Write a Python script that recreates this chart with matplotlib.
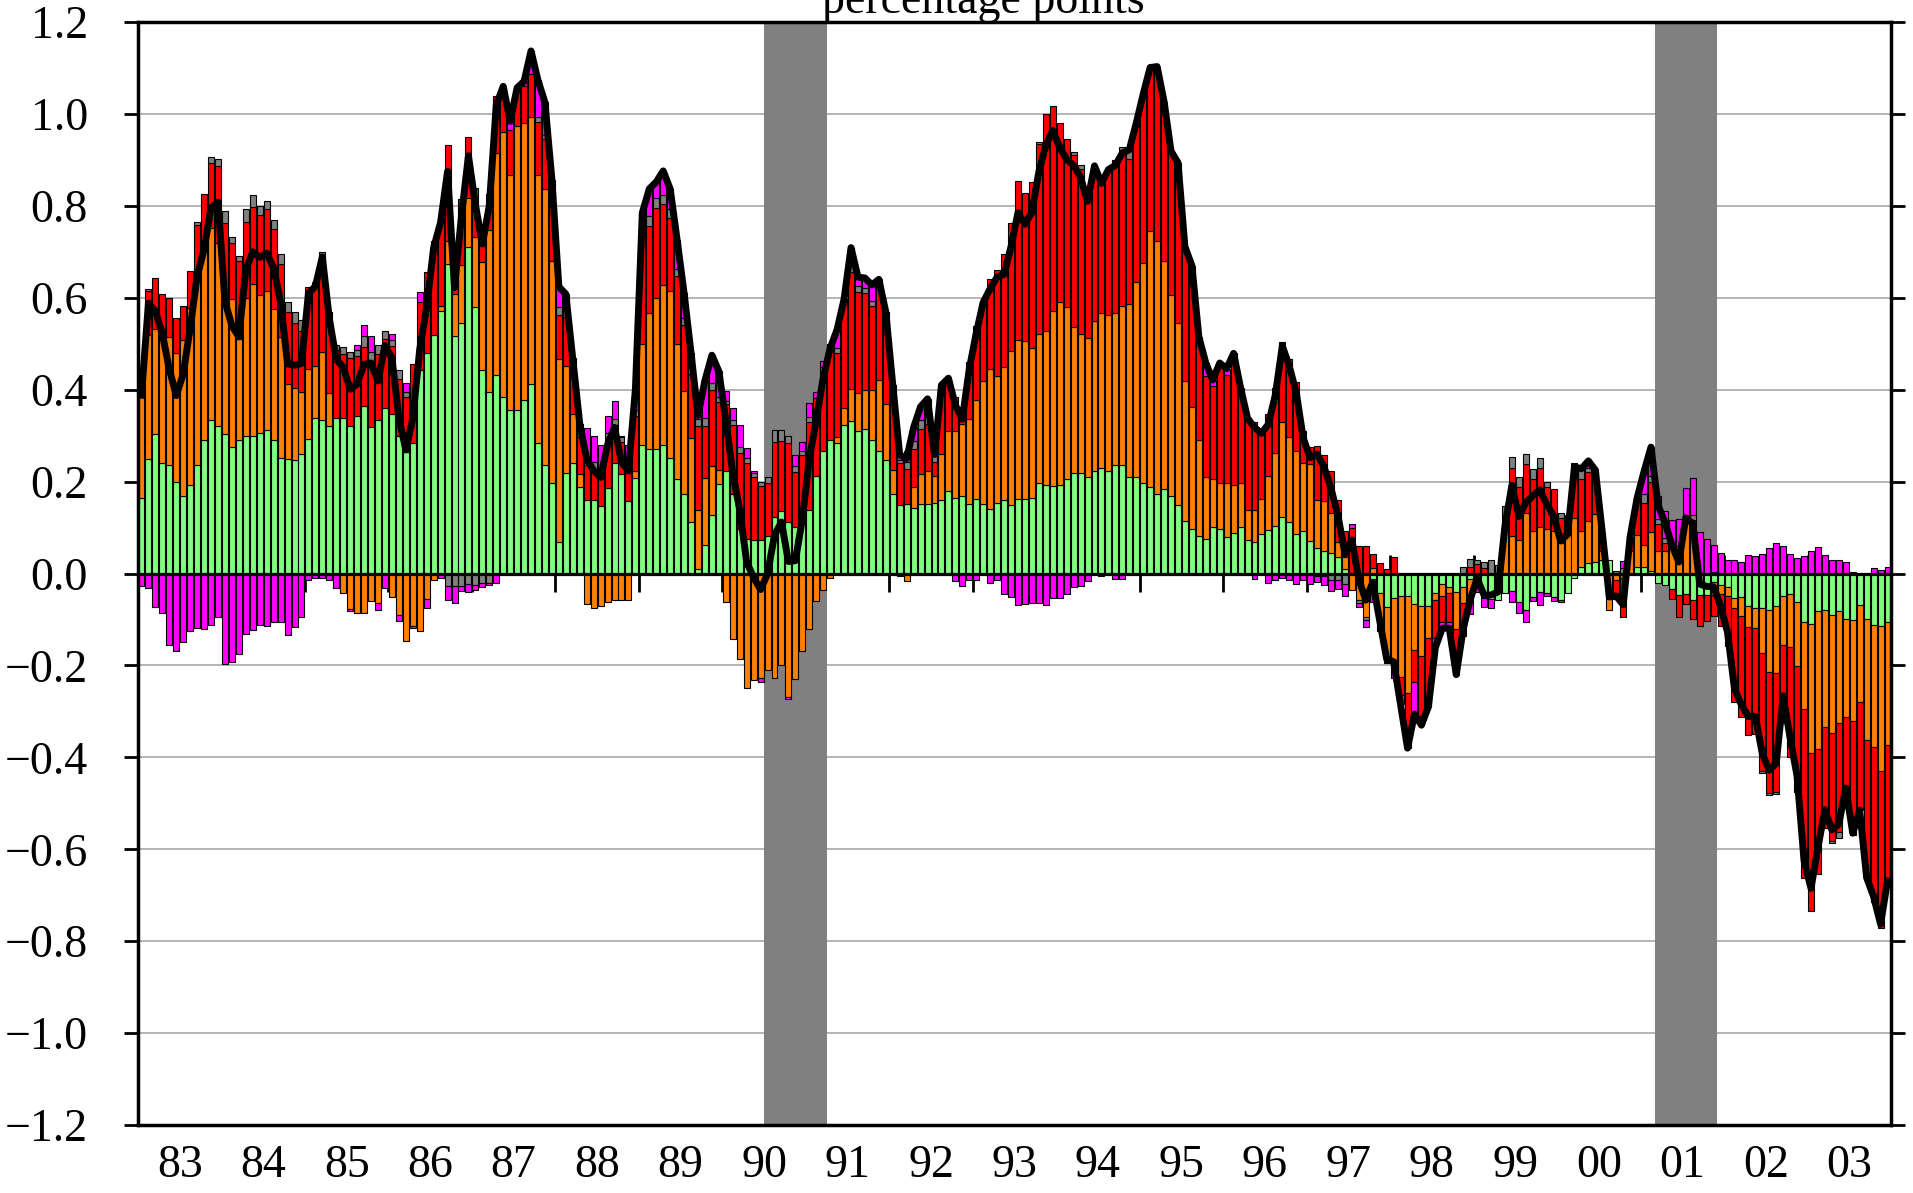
import numpy as np
import matplotlib
matplotlib.use("Agg")
import matplotlib.pyplot as plt

plt.rcParams['font.family'] = ['Liberation Serif', 'DejaVu Serif']

# monthly contributions, Jan 1983 - Dec 2003 (percentage points), one row per year
green = [
    0.164, 0.25, 0.303, 0.24, 0.237, 0.199, 0.169, 0.193, 0.237, 0.29, 0.334, 0.322,
    0.303, 0.276, 0.29, 0.30, 0.30, 0.305, 0.312, 0.29, 0.252, 0.25, 0.248, 0.26,
    0.293, 0.339, 0.333, 0.322, 0.339, 0.339, 0.322, 0.342, 0.364, 0.319, 0.334, 0.36,
    0.346, 0.30, 0.264, 0.283, 0.442, 0.48, 0.519, 0.571, 0.674, 0.517, 0.544, 0.71,
    0.579, 0.442, 0.396, 0.433, 0.385, 0.355, 0.355, 0.378, 0.413, 0.284, 0.237, 0.196,
    0.068, 0.219, 0.241, 0.189, 0.159, 0.161, 0.146, 0.185, 0.24, 0.216, 0.157, 0.207,
    0.28, 0.27, 0.271, 0.28, 0.252, 0.206, 0.172, 0.111, 0.01, 0.063, 0.128, 0.194,
    0.223, 0.172, 0.097, 0.076, 0.073, 0.073, 0.082, 0.124, 0.136, 0.111, 0.102, 0.14,
    0.139, 0.213, 0.267, 0.29, 0.284, 0.323, 0.331, 0.31, 0.315, 0.29, 0.267, 0.246,
    0.173, 0.149, 0.151, 0.143, 0.151, 0.151, 0.154, 0.159, 0.18, 0.165, 0.168, 0.151,
    0.163, 0.151, 0.14, 0.154, 0.16, 0.149, 0.163, 0.163, 0.165, 0.198, 0.193, 0.19,
    0.193, 0.205, 0.219, 0.219, 0.211, 0.222, 0.23, 0.224, 0.237, 0.237, 0.211, 0.209,
    0.197, 0.188, 0.173, 0.184, 0.168, 0.149, 0.114, 0.097, 0.082, 0.074, 0.101, 0.097,
    0.079, 0.089, 0.101, 0.072, 0.068, 0.085, 0.095, 0.104, 0.124, 0.112, 0.085, 0.093,
    0.071, 0.056, 0.049, 0.045, 0.036, 0.009, 0.0, 0.0, 0.0, -0.011, -0.043, -0.072,
    -0.054, -0.05, -0.05, -0.066, -0.07, -0.07, -0.043, -0.023, -0.029, -0.04, -0.03, -0.013,
    -0.02, -0.054, -0.056, -0.058, -0.043, -0.038, -0.061, -0.08, -0.051, -0.04, -0.043, -0.052,
    -0.058, -0.042, -0.009, 0.014, 0.022, 0.025, 0.029, 0.029, 0.0, 0.0, 0.0, 0.014,
    0.014, 0.006, -0.02, -0.026, -0.034, -0.046, -0.044, -0.058, -0.046, -0.046, -0.018, -0.025,
    -0.03, -0.054, -0.052, -0.071, -0.076, -0.076, -0.079, -0.071, -0.05, -0.044, -0.062, -0.106,
    -0.11, -0.082, -0.079, -0.09, -0.082, -0.1, -0.102, -0.068, -0.098, -0.111, -0.114, -0.106,
]
orange = [
    0.243, 0.27, 0.23, 0.275, 0.278, 0.281, 0.339, 0.385, 0.414, 0.43, 0.418, 0.398,
    0.297, 0.321, 0.22, 0.30, 0.329, 0.301, 0.303, 0.286, 0.263, 0.163, 0.155, 0.136,
    0.151, 0.112, 0.15, 0.07, 0.0, -0.043, -0.077, -0.085, -0.085, -0.059, -0.064, 0.0,
    -0.052, -0.09, -0.146, -0.114, -0.125, -0.055, -0.015, 0.012, 0.05, 0.091, 0.128, 0.107,
    0.154, 0.235, 0.351, 0.481, 0.575, 0.513, 0.619, 0.602, 0.58, 0.584, 0.60, 0.484,
    0.399, 0.232, 0.105, 0.027, -0.067, -0.076, -0.071, -0.062, -0.057, -0.057, -0.057, 0.015,
    0.22, 0.297, 0.329, 0.347, 0.363, 0.293, 0.225, 0.184, 0.128, 0.145, 0.106, 0.031,
    -0.063, -0.142, -0.186, -0.249, -0.232, -0.228, -0.211, -0.228, -0.2, -0.269, -0.229, -0.169,
    -0.121, -0.06, -0.036, -0.01, 0.012, 0.038, 0.071, 0.082, 0.085, 0.11, 0.154, 0.123,
    0.053, -0.005, -0.017, 0.045, 0.066, 0.071, 0.059, 0.1, 0.131, 0.144, 0.157, 0.185,
    0.215, 0.268, 0.304, 0.275, 0.29, 0.336, 0.345, 0.342, 0.326, 0.324, 0.335, 0.382,
    0.398, 0.375, 0.318, 0.303, 0.301, 0.327, 0.336, 0.338, 0.329, 0.346, 0.376, 0.426,
    0.479, 0.558, 0.551, 0.496, 0.439, 0.396, 0.305, 0.266, 0.208, 0.135, 0.104, 0.10,
    0.119, 0.104, 0.096, 0.067, 0.071, 0.078, 0.118, 0.159, 0.205, 0.184, 0.182, 0.147,
    0.167, 0.103, 0.109, 0.087, 0.033, 0.027, -0.035, -0.058, -0.094, 0.012, -0.073, -0.12,
    -0.134, -0.175, -0.21, -0.1, -0.11, -0.07, -0.015, -0.026, -0.014, -0.08, -0.035, -0.045,
    0.0, 0.0, 0.0, 0.0, 0.12, 0.081, 0.072, 0.132, 0.093, 0.101, 0.096, 0.093,
    0.067, 0.117, 0.121, 0.079, 0.092, 0.105, 0.02, -0.08, -0.015, -0.01, 0.05, 0.07,
    0.049, 0.085, 0.049, 0.049, 0.058, 0.059, 0.119, 0.116, 0.0, 0.0, -0.028, -0.02,
    -0.02, -0.022, -0.04, -0.045, -0.043, -0.098, -0.135, -0.145, -0.106, -0.116, -0.14, -0.188,
    -0.28, -0.299, -0.255, -0.256, -0.244, -0.212, -0.22, -0.212, -0.264, -0.267, -0.316, -0.268,
]
red = [
    0.008, 0.095, 0.111, 0.093, 0.085, 0.076, 0.075, 0.081, 0.108, 0.106, 0.141, 0.167,
    0.163, 0.123, 0.17, 0.164, 0.168, 0.173, 0.178, 0.174, 0.159, 0.156, 0.141, 0.132,
    0.18, 0.184, 0.209, 0.178, 0.148, 0.139, 0.147, 0.132, 0.128, 0.143, 0.144, 0.15,
    0.148, 0.124, 0.121, 0.173, 0.148, 0.176, 0.205, 0.191, 0.208, 0.078, 0.143, 0.133,
    0.105, 0.07, 0.078, 0.125, 0.10, 0.098, 0.083, 0.081, 0.094, 0.115, 0.108, 0.117,
    0.096, 0.107, 0.082, 0.08, 0.078, 0.067, 0.061, 0.111, 0.083, 0.071, 0.063, 0.12,
    0.265, 0.19, 0.196, 0.176, 0.159, 0.148, 0.143, 0.139, 0.184, 0.112, 0.166, 0.148,
    0.145, 0.152, 0.166, 0.164, 0.138, 0.117, 0.116, 0.162, 0.153, 0.172, 0.119, 0.117,
    0.191, 0.169, 0.172, 0.21, 0.183, 0.226, 0.255, 0.22, 0.21, 0.183, 0.199, 0.2,
    0.178, 0.091, 0.077, 0.083, 0.097, 0.103, 0.029, 0.151, 0.109, 0.074, 0.038, 0.124,
    0.16, 0.171, 0.196, 0.231, 0.245, 0.278, 0.346, 0.322, 0.36, 0.413, 0.472, 0.446,
    0.39, 0.365, 0.373, 0.359, 0.315, 0.338, 0.288, 0.317, 0.334, 0.332, 0.314, 0.345,
    0.367, 0.355, 0.379, 0.347, 0.312, 0.349, 0.292, 0.307, 0.21, 0.22, 0.203, 0.261,
    0.235, 0.286, 0.207, 0.199, 0.19, 0.142, 0.133, 0.141, 0.175, 0.17, 0.15, 0.07,
    0.037, 0.119, 0.099, 0.091, 0.09, 0.057, 0.1, 0.059, 0.059, 0.03, 0.023, 0.009,
    0.036, -0.04, -0.12, -0.07, -0.13, -0.15, -0.083, -0.056, -0.062, -0.1, -0.07, 0.015,
    0.02, 0.011, 0.0, 0.0, 0.006, 0.149, 0.117, 0.107, 0.113, 0.129, 0.092, 0.091,
    0.054, 0.0, 0.12, 0.112, 0.107, 0.095, 0.04, 0.0, -0.04, -0.085, 0.03, 0.08,
    0.09, 0.108, 0.058, 0.018, -0.021, -0.048, -0.022, -0.04, -0.068, -0.057, -0.046, -0.069,
    -0.108, -0.204, -0.22, -0.236, -0.23, -0.255, -0.263, -0.259, -0.162, -0.24, -0.273, -0.369,
    -0.345, -0.272, -0.22, -0.236, -0.237, -0.181, -0.246, -0.235, -0.3, -0.337, -0.341, -0.309,
]
gray = [
    0.0, 0.005, 0.0, 0.0, 0.0, 0.0, 0.0, 0.0, 0.005, 0.0, 0.014, 0.015,
    0.025, 0.012, 0.01, 0.029, 0.026, 0.02, 0.018, 0.02, 0.021, 0.021, 0.025, 0.023,
    0.0, 0.0, 0.007, 0.0, 0.011, 0.014, 0.014, 0.012, 0.025, 0.021, 0.02, 0.018,
    0.013, 0.018, 0.011, 0.0, 0.0, 0.0, 0.0, 0.0, -0.027, -0.027, -0.027, -0.023,
    -0.025, -0.02, -0.02, 0.0, 0.0, 0.0, 0.0, 0.0, 0.0, 0.01, 0.01, 0.01,
    0.017, 0.02, 0.01, 0.01, 0.014, 0.015, 0.01, 0.01, 0.013, 0.01, 0.0, 0.013,
    0.02, 0.02, 0.02, 0.02, 0.02, 0.015, 0.017, 0.014, 0.015, 0.018, 0.015, 0.012,
    0.008, 0.01, 0.012, 0.011, 0.008, 0.01, 0.012, 0.026, 0.023, 0.017, 0.012, 0.01,
    0.01, 0.0, 0.01, 0.0, 0.012, 0.0, 0.012, 0.013, 0.012, 0.01, 0.01, 0.0,
    0.0, 0.007, 0.015, 0.017, 0.02, 0.015, 0.017, 0.0, 0.0, 0.0, 0.0, 0.0,
    0.0, 0.0, 0.0, 0.0, 0.0, 0.0, 0.0, 0.0, 0.0, 0.004, 0.0, 0.0,
    0.0, 0.0, 0.007, 0.008, 0.0, 0.0, 0.0, 0.0, 0.0, 0.012, 0.021, 0.0,
    0.0, 0.0, 0.0, 0.0, 0.0, 0.0, 0.0, 0.0, 0.0, 0.0, 0.0, 0.0,
    0.0, 0.0, 0.0, 0.0, 0.0, 0.0, 0.0, 0.0, 0.0, 0.0, 0.0, 0.0,
    0.0, -0.005, -0.005, -0.015, -0.015, -0.023, 0.0, -0.007, -0.008, 0.0, 0.0, 0.0,
    0.0, 0.0, 0.0, 0.0, 0.0, 0.0, 0.0, 0.0, 0.0, 0.0, 0.014, 0.016,
    0.009, 0.014, 0.029, 0.018, 0.02, 0.023, 0.022, 0.02, 0.022, 0.021, 0.012, 0.0,
    0.011, 0.01, 0.0, 0.023, 0.009, 0.0, 0.0, 0.0, 0.006, 0.012, 0.0, 0.0,
    0.019, 0.014, 0.012, 0.01, 0.0, 0.0, 0.008, 0.012, 0.0, 0.0, 0.004, 0.0,
    0.0, 0.0, 0.0, 0.0, 0.0, -0.005, -0.006, -0.005, -0.007, 0.0, 0.0, 0.0,
    0.0, 0.0, 0.0, -0.005, -0.012, 0.0, 0.0, 0.0, 0.0, 0.0, 0.0, 0.0,
]
magenta = [
    -0.027, -0.032, -0.073, -0.087, -0.155, -0.169, -0.149, -0.125, -0.118, -0.121, -0.111, -0.094,
    -0.196, -0.193, -0.175, -0.132, -0.123, -0.111, -0.114, -0.105, -0.105, -0.134, -0.116, -0.094,
    -0.015, -0.01, -0.01, -0.015, -0.032, 0.0, -0.005, 0.011, 0.023, 0.034, -0.015, -0.032,
    0.014, -0.013, 0.019, -0.005, 0.023, -0.021, 0.0, -0.01, -0.03, -0.037, -0.01, -0.018,
    -0.01, -0.01, -0.005, -0.02, 0.0, 0.018, 0.0, 0.01, 0.05, 0.08, 0.07, 0.05,
    0.044, 0.03, 0.03, 0.02, 0.065, 0.057, 0.063, 0.036, 0.039, 0.003, 0.06, 0.045,
    0.0, 0.06, 0.036, 0.053, 0.043, 0.064, 0.053, 0.032, 0.007, 0.082, 0.06, 0.055,
    0.021, 0.026, 0.049, 0.023, 0.004, -0.007, 0.0, 0.0, 0.0, -0.005, 0.024, 0.02,
    0.03, 0.012, 0.013, 0.0, 0.04, 0.01, 0.04, 0.02, 0.021, 0.035, 0.01, 0.0,
    0.006, 0.016, 0.024, 0.03, 0.029, 0.04, 0.0, 0.0, 0.005, -0.017, -0.027, -0.015,
    -0.015, 0.0, -0.02, -0.015, -0.044, -0.052, -0.069, -0.067, -0.065, -0.065, -0.069, -0.054,
    -0.054, -0.044, -0.029, -0.027, -0.017, 0.0, -0.005, 0.0, -0.012, -0.012, 0.0, 0.0,
    0.0, 0.0, 0.0, 0.0, 0.0, 0.0, 0.0, 0.0, 0.015, 0.029, 0.013, 0.0,
    0.013, 0.0, 0.0, 0.0, -0.011, 0.0, -0.021, -0.015, -0.009, -0.015, -0.023, -0.015,
    -0.023, -0.013, -0.02, -0.023, -0.018, -0.027, 0.008, -0.007, -0.015, -0.05, -0.01, -0.003,
    -0.04, -0.02, 0.0, -0.07, -0.02, 0.0, -0.02, -0.014, -0.014, 0.0, 0.0, -0.03,
    -0.02, -0.018, -0.02, 0.0, 0.0, -0.023, -0.026, -0.025, -0.008, -0.029, -0.006, -0.007,
    -0.003, 0.0, 0.0, 0.0, 0.015, 0.0, 0.0, 0.0, 0.0, 0.015, 0.0, 0.0,
    0.05, 0.062, 0.05, 0.06, 0.059, 0.06, 0.06, 0.079, 0.091, 0.075, 0.059, 0.044,
    0.03, 0.029, 0.026, 0.041, 0.038, 0.042, 0.055, 0.067, 0.059, 0.042, 0.034, 0.038,
    0.05, 0.057, 0.04, 0.029, 0.03, 0.026, 0.003, 0.0, 0.0, 0.012, 0.008, 0.014,
]

recessions = [(1990.5, 1991.25), (2001.167, 2001.917)]
year_labels = ['83', '84', '85', '86', '87', '88', '89', '90', '91', '92', '93',
               '94', '95', '96', '97', '98', '99', '00', '01', '02', '03']

series = [(green, '#80ff80'), (orange, '#ff8000'), (red, '#ff0000'),
          (gray, '#808080'), (magenta, '#ff00ff')]

n = len(green)
x = 1983 + (np.arange(n) + 0.5) / 12.0
total = np.sum([np.array(s) for s, c in series], axis=0)

fig = plt.figure(figsize=(19.13, 11.93), dpi=100)
ax = fig.add_axes([138/1913, 1 - 1125/1193, (1891 - 138)/1913, (1125 - 22)/1193])

# grid + recession bands
for v in np.arange(-1.0, 1.01, 0.2):
    if abs(v) > 1e-9:
        ax.axhline(v, color='#a8a8a8', lw=1.2, zorder=0.5)
for a, b in recessions:
    ax.axvspan(a, b, color='#808080', lw=0, zorder=1)

# year marks on the zero line
ax.vlines(np.arange(1984, 2004), -0.04, 0.04, color='black', lw=2, zorder=1.5)

# stacked bars, positives up and negatives down
pos = np.zeros(n)
neg = np.zeros(n)
for vals, col in series:
    v = np.array(vals)
    bottom = np.where(v >= 0, pos, neg)
    m = v != 0
    ax.bar(x[m], v[m], width=0.86/12, bottom=bottom[m], color=col,
           edgecolor='black', linewidth=0.8, zorder=2)
    pos += np.clip(v, 0, None)
    neg += np.clip(v, None, 0)

ax.axhline(0, color='black', lw=2.3, zorder=3)
ax.plot(x, total, color='black', lw=5, solid_joinstyle='round', zorder=4)

ax.set_xlim(1983, 2004)
ax.set_ylim(-1.2, 1.2)
yt = np.round(np.arange(-1.2, 1.21, 0.2), 1)
ax.set_yticks(yt)
ax.set_yticklabels([('%.1f' % (0.0 if abs(v) < 1e-9 else v)).replace('-', '\u2212') for v in yt])
ax.set_xticks(np.arange(1983, 2004) + 0.5)
ax.set_xticklabels(year_labels)
ax.tick_params(axis='y', which='both', direction='out', length=10, width=2,
               right=True, labelsize=33, pad=26)
ax.tick_params(axis='x', length=0, labelsize=33, pad=14)
for sp in ax.spines.values():
    sp.set_linewidth(2.5)

fig.text(983/1913, 1 - 13/1193, 'percentage points', ha='center', va='baseline', fontsize=33)

fig.savefig('out.png', dpi=100)
